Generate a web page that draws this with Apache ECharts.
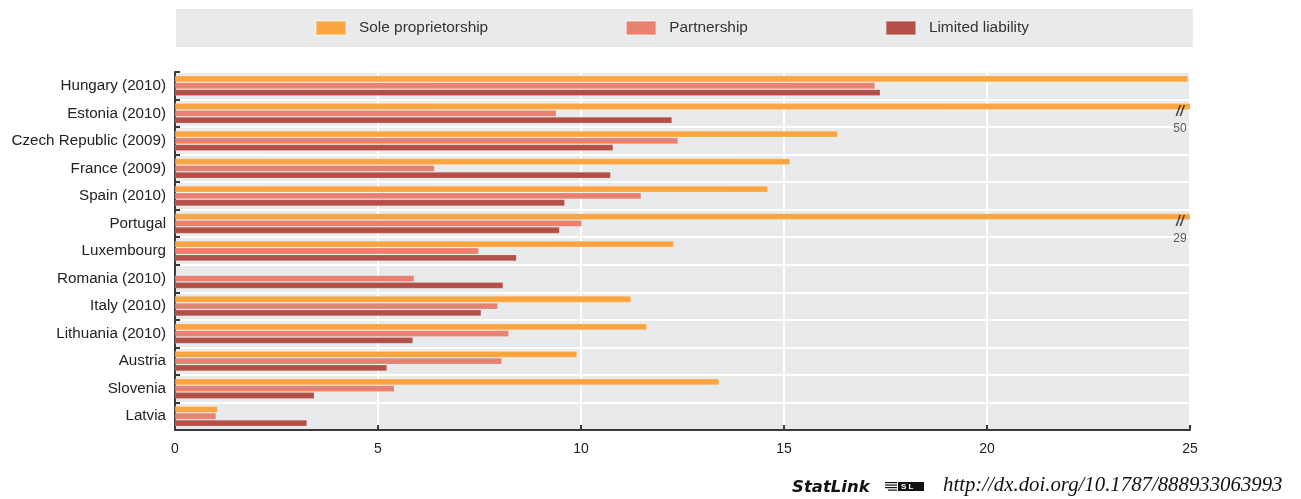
<!DOCTYPE html>
<html>
<head>
<meta charset="utf-8">
<script src="https://cdn.jsdelivr.net/npm/echarts@6/dist/echarts.min.js"></script>
<style>
html,body{margin:0;padding:0;background:#fff;}
#c{width:1301px;height:499px;}
</style>
</head>
<body>
<div id="c"></div>
<script>
const countries = ['Hungary (2010)','Estonia (2010)','Czech Republic (2009)','France (2009)','Spain (2010)','Portugal','Luxembourg','Romania (2010)','Italy (2010)','Lithuania (2010)','Austria','Slovenia','Latvia'];
const seriesNames = ['Sole proprietorship','Partnership','Limited liability'];
const soleVals = [24.95, 50, 16.32, 15.15, 14.6, 29, 12.28, null, 11.23, 11.62, 9.9, 13.4, 1.05];
const partnershipVals = [17.24, 9.39, 12.39, 6.39, 11.48, 10.02, 7.48, 5.89, 7.95, 8.22, 8.05, 5.4, 1.01];
const limitedVals = [17.37, 12.24, 10.79, 10.73, 9.6, 9.47, 8.41, 8.08, 7.54, 5.86, 5.22, 3.43, 3.25];
const xTicks = [0, 5, 10, 15, 20, 25];
const xMax = 25;
const colors = ['#fba541', '#e8816f', '#b34f46'];

const breakData = [];
soleVals.forEach((v, i) => { if (v !== null && v > xMax) breakData.push([xMax, countries[i], v]); });

const font = '"Liberation Sans", Arial, sans-serif';
const chart = echarts.init(document.getElementById('c'), null, {renderer: 'canvas'});
const barBase = {
  type: 'bar',
  barWidth: 6.3,
  barGap: '8%',
  clip: true,
  itemStyle: {borderColor: 'rgba(255,255,255,0.35)', borderWidth: 0.5}
};
chart.setOption({
  animation: false,
  color: colors,
  textStyle: {fontFamily: font},
  legend: {
    left: 176, top: 9,
    padding: [11, 164, 11, 139],
    backgroundColor: '#e9eaec',
    itemWidth: 30, itemHeight: 14, itemGap: 137,
    icon: 'rect',
    data: seriesNames,
    textStyle: {fontSize: 15.4, color: '#333', fontFamily: font, padding: [0, 0, 0, 8]}
  },
  grid: {left: 175, right: 111, top: 72, bottom: 69, show: true, backgroundColor: '#e9eaec', borderWidth: 0},
  xAxis: {
    type: 'value', min: 0, max: xMax, interval: 5,
    axisLine: {show: true, lineStyle: {color: '#3a3a3a', width: 2}},
    axisTick: {show: true, inside: true, length: 5, lineStyle: {color: '#3a3a3a', width: 2}},
    axisLabel: {fontSize: 14, color: '#222', margin: 12, formatter: v => xTicks.includes(v) ? String(v) : ''},
    splitLine: {show: true, lineStyle: {color: '#ffffff', width: 2}}
  },
  yAxis: {
    type: 'category', inverse: true, data: countries,
    axisLine: {show: true, lineStyle: {color: '#3a3a3a', width: 2}},
    axisTick: {show: true, inside: true, length: 5, lineStyle: {color: '#3a3a3a', width: 2}},
    axisLabel: {fontSize: 15.2, color: '#222', margin: 9},
    splitLine: {show: true, lineStyle: {color: '#ffffff', width: 2}}
  },
  series: [
    Object.assign({}, barBase, {name: seriesNames[0], data: soleVals}),
    Object.assign({}, barBase, {name: seriesNames[1], data: partnershipVals}),
    Object.assign({}, barBase, {name: seriesNames[2], data: limitedVals}),
    {
      type: 'scatter', name: 'breaks', symbolSize: 0, data: breakData, silent: true,
      label: {
        show: true, position: 'inside', offset: [-10, 8],
        formatter: p => '{m|//}\n{v|' + p.value[2] + '}',
        rich: {
          m: {fontSize: 14, fontWeight: 'bold', color: '#222', lineHeight: 14, fontStyle: 'italic'},
          v: {fontSize: 12, color: '#333', lineHeight: 18}
        }
      }
    }
  ],
  graphic: [
    {type: 'text', left: 792, top: 479, style: {text: 'StatLink', font: 'italic bold 16.5px "DejaVu Sans", sans-serif', fill: '#111'}},
    {type: 'group', left: 885, top: 482, children: [
      {type: 'rect', shape: {x: 0, y: 1, width: 12, height: 1.2}, style: {fill: '#111'}},
      {type: 'rect', shape: {x: 0, y: 3.5, width: 12, height: 1.2}, style: {fill: '#111'}},
      {type: 'rect', shape: {x: 0, y: 6, width: 12, height: 1.2}, style: {fill: '#111'}},
      {type: 'rect', shape: {x: 3, y: 8.5, width: 9, height: 1.2}, style: {fill: '#111'}},
      {type: 'rect', shape: {x: 13, y: 1, width: 26, height: 9}, style: {fill: '#111'}},
      {type: 'text', style: {x: 16, y: 1.5, text: 'S L', font: 'bold 8px sans-serif', fill: '#fff'}}
    ]},
    {type: 'text', left: 943, top: 475, style: {text: 'http://dx.doi.org/10.1787/888933063993', font: 'italic 20.8px "Liberation Serif", serif', fill: '#111'}}
  ]
});
</script>
</body>
</html>
